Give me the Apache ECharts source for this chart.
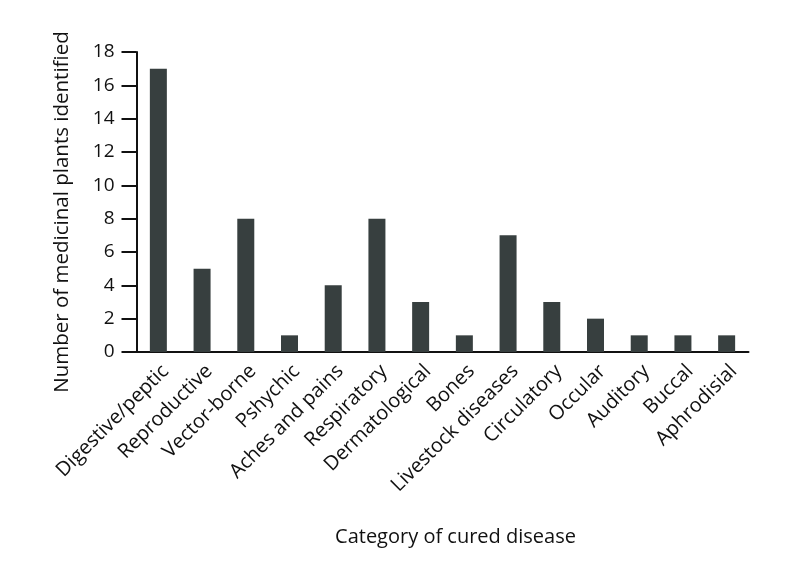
<!DOCTYPE html>
<html><head><meta charset="utf-8">
<script src="https://cdn.jsdelivr.net/npm/echarts@6/dist/echarts.min.js"></script>
<style>html,body{margin:0;padding:0;background:#fff}#c{width:798px;height:577px}</style>
</head><body><div id="c"></div>
<script>
const categories = ["Digestive/peptic","Reproductive","Vector-borne","Pshychic","Aches and pains","Respiratory","Dermatological","Bones","Livestock diseases","Circulatory","Occular","Auditory","Buccal","Aphrodisial"];
const values = [17,5,8,1,4,8,3,1,7,3,2,1,1,1];
const yTicks = {min:0, max:18, interval:2};
const FONT = "'Open Sans', 'Liberation Sans', sans-serif";
const chart = echarts.init(document.getElementById('c'));
chart.setOption({
  animation:false,
  grid:{left:136.5, top:52, width:612, height:300, containLabel:false},
  xAxis:{
    type:'category', data:categories,
    name:'Category of cured disease', nameLocation:'middle', nameGap:175,
    nameTextStyle:{fontFamily:FONT, fontSize:20, color:'#111', padding:[0,0,0,26]},
    axisLine:{lineStyle:{color:'#111', width:2}},
    axisTick:{show:false},
    axisLabel:{rotate:45, interval:0, fontFamily:FONT, fontSize:20, color:'#111', margin:9, verticalAlign:'top'}
  },
  yAxis:{
    type:'value', min:yTicks.min, max:yTicks.max, interval:yTicks.interval,
    name:'Number of medicinal plants identified', nameLocation:'middle', nameGap:64,
    nameTextStyle:{fontFamily:FONT, fontSize:20.5, color:'#111', padding:[0,20,0,0]},
    axisLine:{show:true, lineStyle:{color:'#111', width:2}},
    axisTick:{show:true, length:15, lineStyle:{color:'#111', width:2}},
    splitLine:{show:false},
    axisLabel:{fontFamily:FONT, fontSize:19, color:'#111', margin:22}
  },
  series:[{type:'bar', data:values, barWidth:17, itemStyle:{color:'#373f3f'}}]
});
</script></body></html>
